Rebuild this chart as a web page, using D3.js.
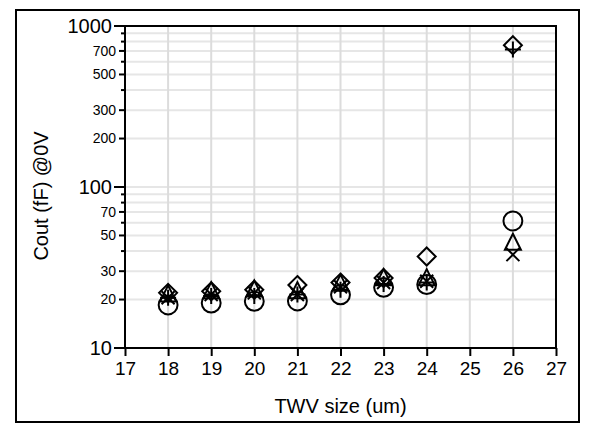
<!DOCTYPE html>
<html>
<head>
<meta charset="utf-8">
<script src="https://cdn.jsdelivr.net/npm/d3@7"></script>
<style>
  body { margin: 0; background: #fff; }
  text { font-family: "Liberation Sans", Arial, sans-serif; fill: #000; }
</style>
</head>
<body>
<svg id="chart" width="595" height="430"></svg>
<script>
// TWV size on x, one value per series
const sizes = [18, 19, 20, 21, 22, 23, 24, 26]
const circleVals   = [18.5, 19, 19.5, 19.6, 21.4, 23.8, 24.8, 61.5]
const triangleVals = [21, 22, 22.5, 22, 24.5, 26.5, 26.5, 44]
const crossVals    = [20.5, 21.5, 22, 21.5, 24, 25.5, 26, 38]
const plusVals     = [20.5, 21, 21, 21.5, 23, 25, 25.5, 715]
const diamondVals  = [22, 22.5, 23, 24.6, 25.5, 27.2, 37, 760]

const xTicks = [17, 18, 19, 20, 21, 22, 23, 24, 25, 26, 27]
const yMajor = [10, 100, 1000]
const yMinorLabels = [20, 30, 50, 70, 200, 300, 500, 700]

const margin = {left: 125, top: 26, right: 39, bottom: 82}
const width = 595, height = 430

let svg = d3.select("#chart")

// outer frame
svg.append("rect")
  .attr("x", 16).attr("y", 10)
  .attr("width", 563).attr("height", 412)
  .attr("fill", "none").attr("stroke", "#000").attr("stroke-width", 2)

let x = d3.scaleLinear().domain([17, 27]).range([margin.left, width - margin.right])
let y = d3.scaleLog().domain([10, 1000]).range([height - margin.bottom, margin.top])

// all log ticks 10..1000
let allY = []
for (let d = 10; d < 1000; d *= 10) {
  for (let k = 1; k < 10; k++) allY.push(d * k)
}
allY.push(1000)

// grid
svg.append("g").selectAll("line.hg")
  .data(allY.filter(v => v > 10 && v < 1000))
  .enter().append("line")
  .attr("x1", x(17)).attr("x2", x(27))
  .attr("y1", d => y(d)).attr("y2", d => y(d))
  .attr("stroke", "#e6e6e6").attr("stroke-width", 2)

svg.append("g").selectAll("line.vg")
  .data(xTicks.slice(1, -1))
  .enter().append("line")
  .attr("x1", d => x(d)).attr("x2", d => x(d))
  .attr("y1", y(10)).attr("y2", y(1000))
  .attr("stroke", "#dcdcdc").attr("stroke-width", 2)

// x axis
let xAxis = d3.axisBottom(x).tickValues(xTicks).tickSize(8).tickFormat(d3.format("d"))
let gx = svg.append("g")
  .attr("transform", `translate(0, ${y(10)})`)
  .call(xAxis)
gx.select(".domain").remove()
gx.selectAll(".tick line").attr("stroke", "#000").attr("stroke-width", 2)
gx.selectAll(".tick text")
  .attr("y", 14)
  .style("font-size", "19px")
  .style("font-family", "Liberation Sans, Arial, sans-serif")

// y axis - minor ticks
let yg = svg.append("g")
yg.selectAll("line.ytick")
  .data(allY)
  .enter().append("line")
  .attr("x1", d => yMajor.includes(d) ? x(17) - 11 : (yMinorLabels.includes(d) ? x(17) - 6 : x(17) - 4))
  .attr("x2", x(17))
  .attr("y1", d => y(d)).attr("y2", d => y(d))
  .attr("stroke", "#000").attr("stroke-width", 2)

yg.selectAll("text.major")
  .data(yMajor)
  .enter().append("text")
  .attr("x", x(17) - 13)
  .attr("y", d => y(d))
  .attr("dy", "0.35em")
  .attr("text-anchor", "end")
  .style("font-size", "20px")
  .text(d => d)

yg.selectAll("text.minor")
  .data(yMinorLabels)
  .enter().append("text")
  .attr("x", x(17) - 9)
  .attr("y", d => y(d))
  .attr("dy", "0.35em")
  .attr("text-anchor", "end")
  .style("font-size", "14px")
  .text(d => d)

// plot box
svg.append("rect")
  .attr("x", x(17)).attr("y", y(1000))
  .attr("width", x(27) - x(17)).attr("height", y(10) - y(1000))
  .attr("fill", "none").attr("stroke", "#000").attr("stroke-width", 2)

// marker shapes
const shapes = {
  circle: d3.symbol().type(d3.symbolCircle).size(280)(),
  triangle: "M0,-10.7L8,5.3L-8,5.3Z",
  cross: "M-6.5,-6.5L6.5,6.5M6.5,-6.5L-6.5,6.5",
  plus: "M-8,0H8M0,-8V8",
  diamond: "M0,-9L9,0L0,9L-9,0Z"
}

const series = [
  {vals: circleVals, shape: "circle"},
  {vals: triangleVals, shape: "triangle"},
  {vals: crossVals, shape: "cross"},
  {vals: plusVals, shape: "plus"},
  {vals: diamondVals, shape: "diamond"}
]

series.forEach(s => {
  svg.append("g").selectAll("path")
    .data(sizes)
    .enter().append("path")
    .attr("d", shapes[s.shape])
    .attr("transform", (d, i) => `translate(${x(d)}, ${y(s.vals[i])})`)
    .attr("fill", "none").attr("stroke", "#000").attr("stroke-width", 2)
})

// axis titles
svg.append("text")
  .attr("x", x(22)).attr("y", 413)
  .attr("text-anchor", "middle")
  .style("font-size", "20px")
  .text("TWV size (um)")

svg.append("text")
  .attr("transform", `translate(48, ${(y(10) + y(1000)) / 2 + 9}) rotate(-90)`)
  .attr("text-anchor", "middle")
  .style("font-size", "20px")
  .text("Cout (fF) @0V")
</script>
</body>
</html>
